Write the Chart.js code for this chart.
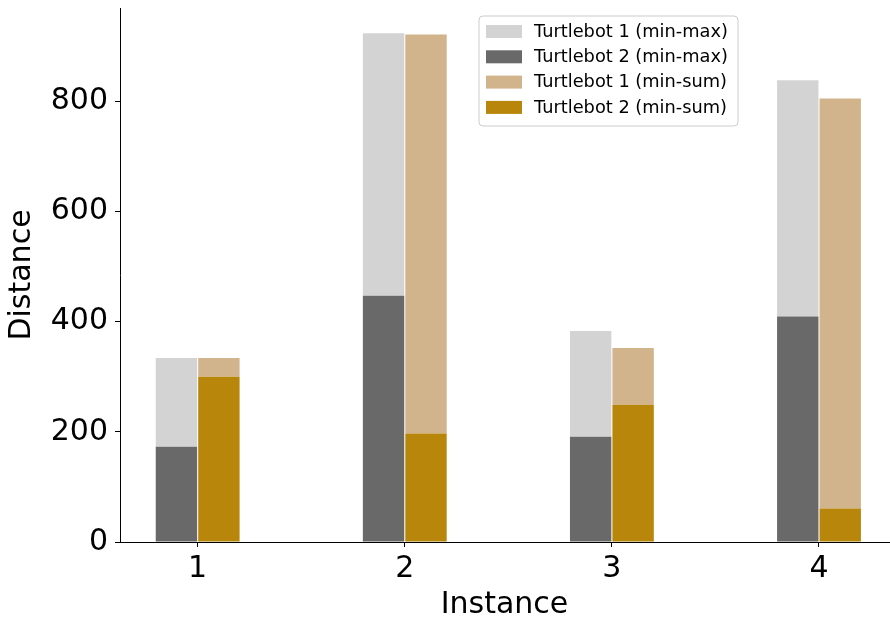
<!DOCTYPE html>
<html>
<head>
<meta charset="utf-8">
<script src="https://cdn.jsdelivr.net/npm/chart.js@4.4.0/dist/chart.umd.min.js"></script>
<style>
  html, body { margin: 0; padding: 0; background: #fff; }
</style>
</head>
<body>
<canvas id="chart" width="890" height="620"></canvas>
<script>
// ---------- data ----------
const instances = [1, 2, 3, 4];
const yTicks = [0, 200, 400, 600, 800];
// segment heights, Turtlebot 2 at the bottom of each stack
const tb2MinMax = [173, 447, 191, 409];
const tb1MinMax = [161, 476, 192, 429];
const tb2MinSum = [300, 197, 249, 61];
const tb1MinSum = [34, 724, 103, 744];

const FONT = "'DejaVu Sans', sans-serif";

function pts(vals) {
  return vals.map((v, i) => ({ x: instances[i], y: v }));
}

// matplotlib-ish legend box in the top right of the plot
const boxLegend = {
  id: "boxLegend",
  afterDraw(chart) {
    const { ctx, chartArea } = chart;
    const left = chartArea.right - 410, top = chartArea.top + 8;
    const w = 259, h = 110, r = 4;
    ctx.save();
    ctx.beginPath();
    ctx.moveTo(left + r, top);
    ctx.arcTo(left + w, top, left + w, top + h, r);
    ctx.arcTo(left + w, top + h, left, top + h, r);
    ctx.arcTo(left, top + h, left, top, r);
    ctx.arcTo(left, top, left + w, top, r);
    ctx.closePath();
    ctx.fillStyle = "rgba(255,255,255,0.8)";
    ctx.fill();
    ctx.strokeStyle = "#cccccc";
    ctx.lineWidth = 1;
    ctx.stroke();

    const order = [1, 0, 3, 2];
    ctx.font = "17.8px " + FONT;
    ctx.textBaseline = "middle";
    order.forEach((dsIdx, row) => {
      const ds = chart.data.datasets[dsIdx];
      const y = top + 9 + row * 25.3;
      ctx.fillStyle = ds.backgroundColor;
      ctx.fillRect(left + 7, y, 36, 13);
      ctx.fillStyle = "#000";
      ctx.fillText(ds.label, left + 55, y + 7);
    });
    ctx.restore();
  }
};

const ctx = document.getElementById("chart");
new Chart(ctx, {
  type: "bar",
  data: {
    datasets: [
      { label: "Turtlebot 2 (min-max)", data: pts(tb2MinMax), backgroundColor: "#696969", stack: "minmax" },
      { label: "Turtlebot 1 (min-max)", data: pts(tb1MinMax), backgroundColor: "#d3d3d3", stack: "minmax" },
      { label: "Turtlebot 2 (min-sum)", data: pts(tb2MinSum), backgroundColor: "#b8860b", stack: "minsum" },
      { label: "Turtlebot 1 (min-sum)", data: pts(tb1MinSum), backgroundColor: "#d2b48c", stack: "minsum" }
    ]
  },
  options: {
    responsive: false,
    animation: false,
    layout: { padding: { top: 8, right: 1, left: 0, bottom: 0 } },
    datasets: { bar: { categoryPercentage: 0.41, barPercentage: 0.975 } },
    plugins: { legend: { display: false }, tooltip: { enabled: false } },
    scales: {
      x: {
        type: "linear",
        min: 0.625,
        max: 4.338,
        offset: false,
        stacked: true,
        afterBuildTicks: (s) => { s.ticks = instances.map(v => ({ value: v })); },
        afterFit: (s) => { s.height = 78; s.paddingLeft = 0; s.paddingRight = 0; },
        ticks: { font: { family: FONT, size: 30 }, color: "#000", padding: 4, maxRotation: 0 },
        grid: { offset: false, drawOnChartArea: false, drawTicks: true, tickLength: 5, color: "#000" },
        border: { display: true, color: "#000", width: 1 },
        title: { display: true, text: "Instance", color: "#000",
                 font: { family: FONT, size: 30, lineHeight: 1 }, padding: { top: 0, bottom: 0 } }
      },
      y: {
        min: 0,
        max: 969,
        stacked: true,
        afterBuildTicks: (s) => { s.ticks = yTicks.map(v => ({ value: v })); },
        afterFit: (s) => { s.width = 120; s.paddingTop = 0; s.paddingBottom = 0; },
        ticks: { font: { family: FONT, size: 30 }, color: "#000", padding: 7 },
        grid: { drawOnChartArea: false, drawTicks: true, tickLength: 5, color: "#000" },
        border: { display: true, color: "#000", width: 1 },
        title: { display: true, text: "Distance", color: "#000",
                 font: { family: FONT, size: 30, lineHeight: 1 }, padding: { top: 7, bottom: 0 } }
      }
    }
  },
  plugins: [boxLegend]
});
</script>
</body>
</html>
